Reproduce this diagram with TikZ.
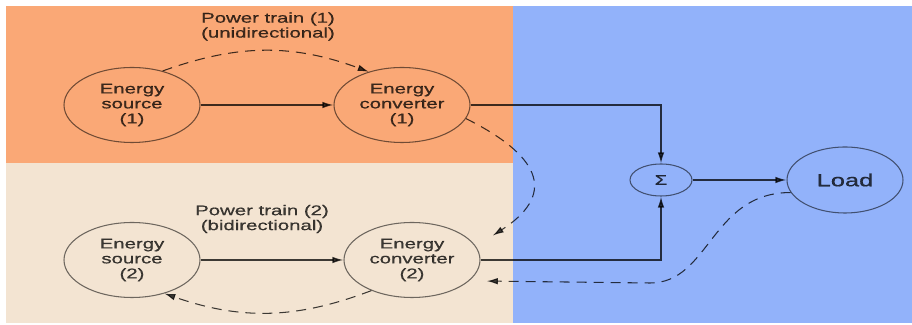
\documentclass[tikz,border=0pt]{standalone}
\usepackage{fontspec}
\setsansfont{Liberation Sans}[FakeStretch=1.45, FakeBold=0.6]
\definecolor{trainone}{RGB}{250, 168, 118}
\definecolor{traintwo}{RGB}{243, 228, 210}
\definecolor{loadside}{RGB}{146, 178, 250}
\usetikzlibrary{shapes, arrows.meta, positioning}

\begin{document}
\begin{tikzpicture}[
        arr/.style={-{Latex[length=2.2mm, width=1.3mm]}, line width=0.8pt, opacity=0.75},
        back/.style={arr, dashed, dash pattern=on 0.2cm off 0.14cm, line width=0.6pt},
        blob/.style={ellipse, draw, draw opacity=0.55, line width=0.6pt, inner sep=0pt,
                     minimum width=2.72cm, minimum height=1.5cm, align=center,
                     font=\sffamily\fontsize{8}{8.5}\selectfont, text opacity=0.75},
        lbl/.style={align=center, font=\sffamily\fontsize{8}{8.5}\selectfont, text opacity=0.75}
      ]
        \useasboundingbox (0, 0) rectangle (18.24, 6.5);

        % Regions
        \fill[trainone] (0.12, 3.24) rectangle (10.25, 6.38);
        \fill[traintwo] (0.12, 0.04) rectangle (10.25, 3.24);
        \fill[loadside] (10.25, 0.04) rectangle (18.24, 6.38);

        % Power train (1)
        \node[lbl] (pt1) at (5.36, 5.97) {Power train (1)\\(unidirectional)};
        \node[blob] (src1) at (2.64, 4.40) {Energy\\source\\(1)};
        \node[blob] (conv1) at (8.04, 4.40) {Energy\\converter\\(1)};

        % Power train (2)
        \node[lbl] (pt2) at (5.24, 2.12) {Power train (2)\\(bidirectional)};
        \node[blob] (src2) at (2.64, 1.30) {Energy\\source\\(2)};
        \node[blob] (conv2) at (8.24, 1.30) {Energy\\converter\\(2)};

        % Sum and load
        \node[blob, minimum width=1.24cm, minimum height=0.64cm] (sum) at (13.22, 2.9) {Σ};
        \node[blob, minimum width=2.32cm, minimum height=1.32cm,
              font=\sffamily\fontsize{10}{12}\selectfont] (load) at (16.9, 2.9) {Load};
        \coordinate (bend) at (13.0, 0.84);

        % Connections
        \draw[arr] (src1) -- (conv1);
        \draw[arr] (src2) -- (conv2);
        \draw[arr] (conv1.east) -| (sum.north);
        \draw[arr] (conv2.east) -| (sum.south);
        \draw[arr] (sum) -- (load);

        % Power flow
        \draw[back] (src1.48) to[bend left=20] (conv1.135);
        \draw[back, shorten >=0.4cm] (conv1.-12) .. controls +(1.6, -0.8) and +(1.55, 1.0) .. (conv2.12);
        \draw[back, shorten >=0.35cm] (load.193) .. controls +(-1.6, 0) and +(1.2, 0) .. (bend) -- (conv2.-20);
        \draw[back] (conv2.217) to[bend left=20] (src2.-46);
      \end{tikzpicture}
\end{document}
